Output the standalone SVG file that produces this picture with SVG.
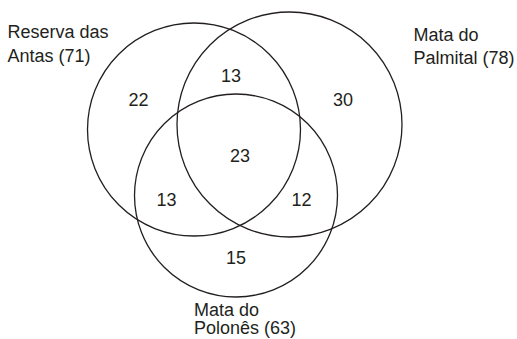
<svg xmlns="http://www.w3.org/2000/svg" width="517" height="339" viewBox="0 0 517 339">
<style>
.c{fill:none;stroke:#231f20;stroke-width:1.3}
.t{font-family:"Liberation Sans",Arial,sans-serif;font-size:18px;fill:#231f20}
.n{font-family:"Liberation Sans",Arial,sans-serif;font-size:18px;fill:#231f20;text-anchor:middle}
</style>
<rect width="517" height="339" fill="#ffffff"/>
<g id="reserva-das-antas">
<circle class="c" cx="194" cy="129.5" r="106.5"/>
<text class="t" x="7.5" y="37.5">Reserva das</text>
<text class="t" x="7.5" y="61.5">Antas (71)</text>
</g>
<g id="mata-do-palmital">
<circle class="c" cx="289.5" cy="124.5" r="112.5"/>
<text class="t" x="413.5" y="41">Mata do</text>
<text class="t" x="413.5" y="64">Palmital (78)</text>
</g>
<g id="mata-do-polones">
<circle class="c" cx="236" cy="195.5" r="101.5"/>
<text class="t" x="194" y="315.5">Mata do</text>
<text class="t" x="194" y="334">Polonês (63)</text>
</g>
<g id="counts">
<text class="n" x="138.5" y="106">22</text>
<text class="n" x="231" y="82">13</text>
<text class="n" x="343" y="106">30</text>
<text class="n" x="240" y="161.5">23</text>
<text class="n" x="166.5" y="205.5">13</text>
<text class="n" x="301.5" y="205.5">12</text>
<text class="n" x="236" y="264">15</text>
</g>
<g id="connectors"></g>
</svg>
